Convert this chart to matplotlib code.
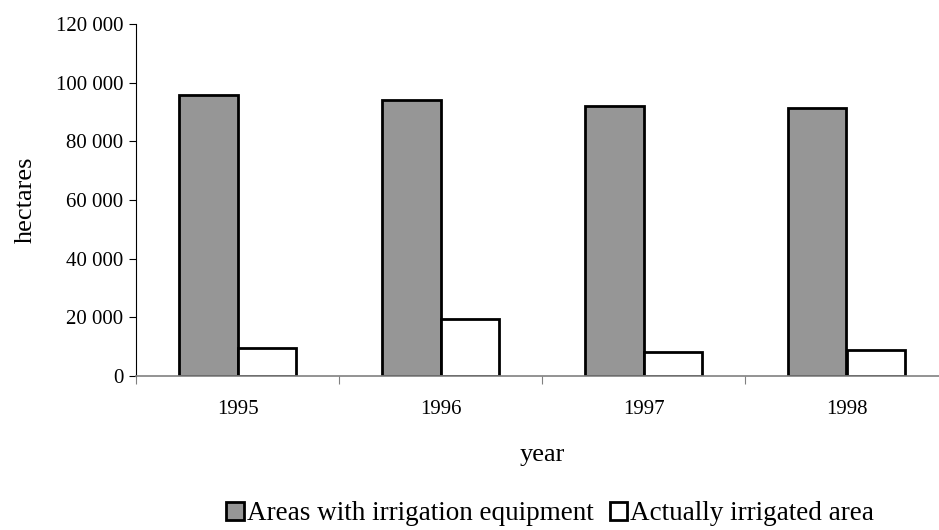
import numpy as np
import matplotlib.pyplot as plt

years = ['1995', '1996', '1997', '1998']
equipped = [95900, 94000, 92100, 91500]
irrigated = [9500, 19300, 8300, 9000]

plt.rcParams['font.family'] = ['Liberation Serif', 'DejaVu Serif']

fig = plt.figure(figsize=(9.39, 5.30), dpi=100)
# category width ~203 px, last boundary falls just past the right edge
ax = fig.add_axes([136 / 939, 1 - 376 / 530, 812 / 939, (376 - 24) / 530])

x = np.arange(len(years))
w = 0.288
ax.bar(x - w / 2, equipped, w, color='#969696', edgecolor='black', linewidth=2,
       label='Areas with irrigation equipment')
ax.bar(x + w / 2, irrigated, w, color='white', edgecolor='black', linewidth=2,
       label='Actually irrigated area')

ax.set_xlim(-0.5, 3.5)
ax.set_ylim(0, 120000)
ticks = list(range(0, 120001, 20000))
ax.set_yticks(ticks)
ax.set_yticklabels(['0' if v == 0 else f'{v // 1000} 000' for v in ticks], fontsize=15)

# tick marks on category boundaries, labels in the middle
ax.set_xticks(np.arange(-0.5, len(years), 1.0))
ax.set_xticklabels([])
ax.set_xticks(x, minor=True)
ax.set_xticklabels(years, minor=True, fontsize=15)
ax.tick_params(axis='x', which='major', length=6, color='#808080')
ax.tick_params(axis='x', which='minor', length=0, pad=17)
ax.tick_params(axis='y', length=5, pad=4)

for s in ['top', 'right']:
    ax.spines[s].set_visible(False)
ax.spines['bottom'].set_color('#808080')
ax.spines['bottom'].set_linewidth(1.2)
ax.spines['left'].set_color('black')

ax.set_ylabel('hectares', fontsize=19, labelpad=14)
ax.set_xlabel('year', fontsize=19, labelpad=18)

fig.legend(loc='center', bbox_to_anchor=(550 / 939, 1 - 514 / 530), ncol=2,
           frameon=False, fontsize=19.5, handlelength=0.65, handleheight=0.65,
           handletextpad=0.1, columnspacing=0.6, borderaxespad=0)

fig.savefig('out.png', dpi=100)
